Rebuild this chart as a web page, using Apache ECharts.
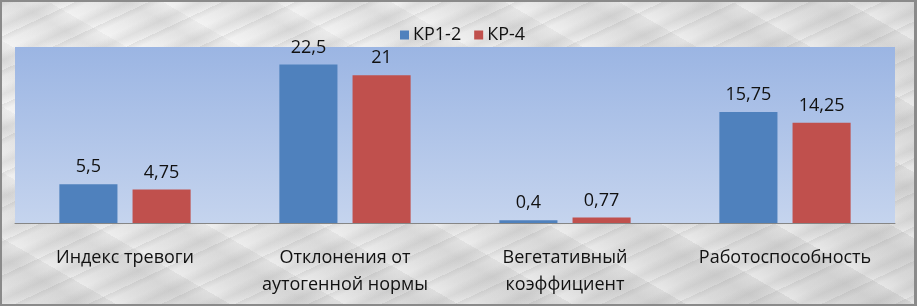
<!DOCTYPE html>
<html>
<head>
<meta charset="utf-8">
<script src="https://cdn.jsdelivr.net/npm/echarts@6/dist/echarts.min.js"></script>
<style>
html,body{margin:0;padding:0;}
#wrap{position:relative;width:917px;height:306px;box-sizing:border-box;border:2px solid #8a8a8a;border-right-width:3px;
background:
 repeating-linear-gradient(155deg, rgba(110,110,110,0.12) 0px, rgba(120,120,120,0.0) 6px, rgba(255,255,255,0.0) 14px, rgba(140,140,140,0.14) 22px, rgba(255,255,255,0) 31px),
 repeating-linear-gradient(30deg, rgba(255,255,255,0.35) 0px, rgba(255,255,255,0) 18px, rgba(160,160,160,0.14) 40px, rgba(255,255,255,0) 57px),
 radial-gradient(ellipse at 20% 30%, #f2f2f2 0%, #e0e0e0 60%, #d6d6d6 100%);
}
#chart{position:absolute;left:-2px;top:-2px;width:917px;height:306px;}
</style>
</head>
<body>
<div id="wrap"><div id="chart"></div></div>
<script>
var categories = ['Индекс тревоги', 'Отклонения от\nаутогенной нормы', 'Вегетативный\nкоэффициент', 'Работоспособность'];
var seriesNames = ['КР1-2', 'КР-4'];
var kr12 = [5.5, 22.5, 0.4, 15.75];
var kr4 = [4.75, 21, 0.77, 14.25];

var chart = echarts.init(document.getElementById('chart'), null, {renderer: 'canvas'});
var fontFam = '"Open Sans", "Liberation Sans", sans-serif';
function fmt(p){ return String(p.value).replace('.', ','); }
var labelCfg = {show: true, position: 'top', distance: 8, formatter: fmt, color: '#111', fontSize: 18, fontFamily: fontFam};
chart.setOption({
  backgroundColor: 'transparent',
  animation: false,
  textStyle: {fontFamily: fontFam},
  legend: {
    data: seriesNames,
    left: 395, top: 21,
    itemWidth: 9, itemHeight: 9, itemGap: 13,
    icon: 'rect',
    textStyle: {fontSize: 18, color: '#111', fontFamily: fontFam, padding: [0,0,0,-1]}
  },
  grid: {left: 15, right: 22, top: 47, bottom: 83, containLabel: false,
    show: true, borderWidth: 0,
    backgroundColor: {type: 'linear', x: 0, y: 0, x2: 0, y2: 1,
      colorStops: [{offset: 0, color: '#9bb5e3'}, {offset: 1, color: '#c5d4ee'}]}
  },
  xAxis: {
    type: 'category', data: categories,
    axisTick: {show: false},
    axisLine: {lineStyle: {color: '#868686', width: 1}},
    axisLabel: {color: '#111', fontSize: 18, fontFamily: fontFam, margin: 21, lineHeight: 27, interval: 0}
  },
  yAxis: {type: 'value', min: 0, max: 25, show: false, splitLine: {show: false}},
  series: [
    {name: seriesNames[0], type: 'bar', data: kr12, barWidth: '26.4%', barGap: '26%',
     itemStyle: {color: '#4f81bd'}, label: labelCfg},
    {name: seriesNames[1], type: 'bar', data: kr4, barWidth: '26.4%',
     itemStyle: {color: '#c0504d'}, label: labelCfg}
  ]
});
</script>
</body>
</html>
